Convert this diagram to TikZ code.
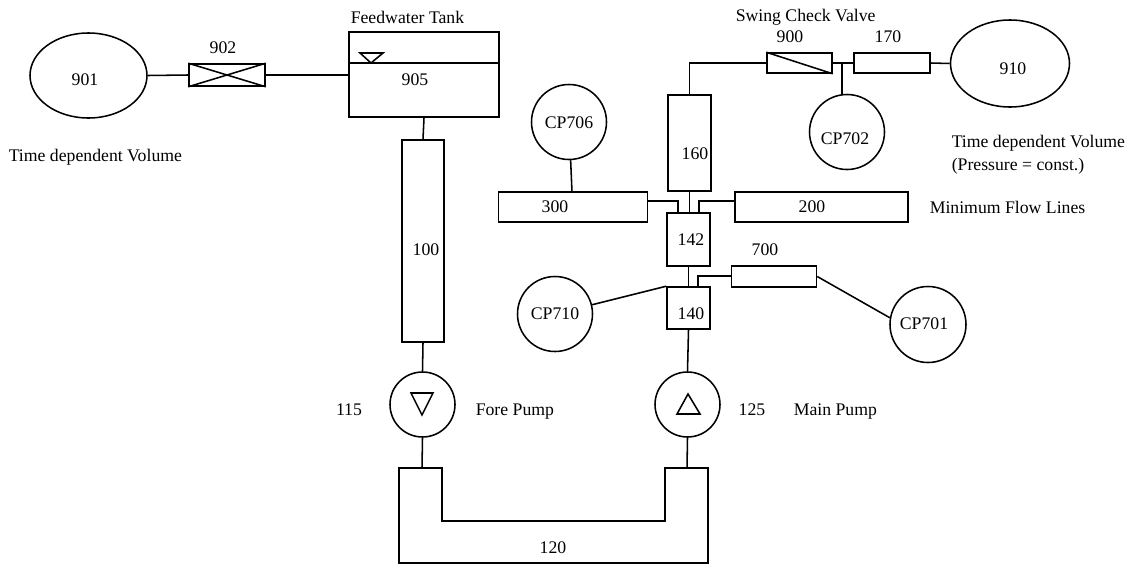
\documentclass[tikz,border=0pt]{standalone}
\usepackage{fontspec}
\setmainfont{Liberation Serif}
\usetikzlibrary{shapes.geometric}
\newcommand{\pxu}{0.025cm}
\tikzset{
    pipebox/.style={draw, rectangle, inner sep=0pt},
    vessel/.style={draw, ellipse, inner sep=0pt},
    gauge/.style={draw, circle, inner sep=0pt},
    txt/.style={inner sep=0pt, font=\fontsize{12.6}{15}\selectfont},
    ltxt/.style={txt, anchor=west}
}
\begin{document}
\begin{tikzpicture}[x=\pxu, y=-\pxu, line width=1.1pt]
        \useasboundingbox (0, 0) rectangle (1125, 566);
        % Behaelter
        \node[vessel, minimum width=117*\pxu, minimum height=85*\pxu] (vol901) at (88.5, 75.5) {};
        \node[vessel, minimum width=119*\pxu, minimum height=87*\pxu] (vol910) at (1010, 63.5) {};
        \node[pipebox, minimum width=150*\pxu, minimum height=85*\pxu] (tank) at (424, 74.5) {};
        % Ventile
        \node[pipebox, minimum width=76*\pxu, minimum height=22*\pxu] (valve902) at (227, 75) {};
        \node[pipebox, minimum width=65*\pxu, minimum height=20*\pxu] (valve900) at (799.5, 63) {};
        % Rohre
        \node[pipebox, minimum width=42*\pxu, minimum height=202*\pxu] (pipe100) at (423, 241) {};
        \node[pipebox, minimum width=43*\pxu, minimum height=96*\pxu] (pipe160) at (689.5, 143) {};
        \node[pipebox, minimum width=76*\pxu, minimum height=20*\pxu] (pipe170) at (892, 63) {};
        \node[pipebox, minimum width=149*\pxu, minimum height=30*\pxu] (pipe300) at (573, 207) {};
        \node[pipebox, minimum width=173*\pxu, minimum height=30*\pxu] (pipe200) at (821.5, 207) {};
        \node[pipebox, minimum width=43*\pxu, minimum height=53*\pxu] (pipe142) at (688.5, 239.5) {};
        \node[pipebox, minimum width=43*\pxu, minimum height=42*\pxu] (pipe140) at (688.5, 308) {};
        \node[pipebox, minimum width=85*\pxu, minimum height=21*\pxu] (pipe700) at (774, 276.5) {};
        % Messstellen
        \node[gauge, minimum size=75*\pxu] (cp706) at (569, 122) {};
        \node[gauge, minimum size=75*\pxu] (cp702) at (847, 132) {};
        \node[gauge, minimum size=75*\pxu] (cp710) at (555, 314) {};
        \node[gauge, minimum size=76*\pxu] (cp701) at (928, 324.5) {};
        % Pumpen
        \node[gauge, minimum size=65*\pxu] (pump115) at (422.5, 404.5) {};
        \node[gauge, minimum size=65*\pxu] (pump125) at (687.5, 404.5) {};
        \draw (411, 393) -- (433, 393) -- (422, 415) -- cycle;
        \draw (677, 414) -- (700, 414) -- (688, 394) -- cycle;
        % Einbauten
        \draw (valve902.north west) -- (valve902.south east);
        \draw (valve902.south west) -- (valve902.north east);
        \draw (valve900.north west) -- (valve900.south east);
        \coordinate (level) at (349, 63);
        \draw (level) -- (level -| tank.east);
        \draw (360, 53) -- (383, 53) -- (371, 63) -- cycle;
        % Bogen
        \coordinate (ufore) at (422, 468);
        \coordinate (umain) at (687, 468);
        \draw (399, 468) -- (442, 468) -- (442, 521) -- (665, 521) -- (665, 468) --
            (708, 468) -- (708, 563) -- (399, 563) -- cycle;
        % Verbindungen
        \coordinate (j706) at (572, 192);
        \coordinate (j702) at (842, 63);
        \coordinate (j300) at (678, 201);
        \coordinate (j200) at (699, 201);
        \coordinate (j700) at (698, 276);
    	\draw (vol901.east) -- (valve902.west);
    	\draw (valve902.east) -- (valve902.east -| tank.west);
    	\draw (tank.south) -- (pipe100.north);
    	\draw (pipe100.south) -- (pump115.north);
    	\draw (pump115.south) -- (ufore);
    	\draw (pump125.south) -- (umain);
    	\draw (pipe140.south) -- (pump125.north);
    	\draw (pipe142.south) -- (pipe140.north);
    	\draw (pipe160.south) -- (pipe160.south |- pipe142.north);
    	\draw (pipe160.north) -- (pipe160.north |- valve900.west) -- (valve900.west);
    	\draw (valve900.east) -- (pipe170.west);
    	\draw (pipe170.east) -- (vol910.west);
    	\draw (j702) -- (j702 |- cp702.north);
    	\draw (j706) -- (cp706);
    	\draw (j300 -| pipe300.east) -- (j300) -- (j300 |- pipe142.north);
    	\draw (j200 -| pipe200.west) -- (j200) -- (j200 |- pipe142.north);
    	\draw (j700 -| pipe700.west) -- (j700) -- (j700 |- pipe140.north);
    	\draw (cp710) -- (pipe140.north west);
    	\draw (pipe700.east) -- (cp701.170);
        % Beschriftung
        \node[txt] (t901) at (85, 80) {901};
        \node[txt] (t902) at (223, 48) {902};
        \node[txt] (t905) at (415, 80) {905};
        \node[txt] (t100) at (426, 250) {100};
        \node[txt] (t115) at (349, 410) {115};
        \node[txt] (t125) at (752, 410) {125};
        \node[txt] (t120) at (553, 548) {120};
        \node[txt] (t160) at (695, 154) {160};
        \node[txt] (t900) at (790, 37) {900};
        \node[txt] (t170) at (888, 37) {170};
        \node[txt] (t910) at (1013, 69) {910};
        \node[txt] (t300) at (555, 207) {300};
        \node[txt] (t200) at (812, 207) {200};
        \node[txt] (t142) at (691, 240) {142};
        \node[txt] (t140) at (691, 314) {140};
        \node[txt] (t700) at (765, 250) {700};
        \node[txt] (t706) at (569, 123) {CP706};
        \node[txt] (t702) at (845, 139) {CP702};
        \node[txt] (t710) at (555, 314) {CP710};
        \node[txt] (t701) at (924, 324) {CP701};
        \node[ltxt] (tfeed) at (350, 17) {Feedwater Tank};
        \node[ltxt] (tvol) at (8, 157) {Time dependent Volume};
        \node[ltxt] (tswing) at (735, 17) {Swing Check Valve};
        \node[ltxt] (tvolb) at (951, 143) {Time dependent Volume};
        \node[ltxt] (tpress) at (951, 166) {(Pressure = const.)};
        \node[ltxt] (tmin) at (929, 207) {Minimum Flow Lines};
        \node[ltxt] (tfore) at (475, 412) {Fore Pump};
        \node[ltxt] (tmain) at (793, 412) {Main Pump};
    	\end{tikzpicture}
\end{document}
